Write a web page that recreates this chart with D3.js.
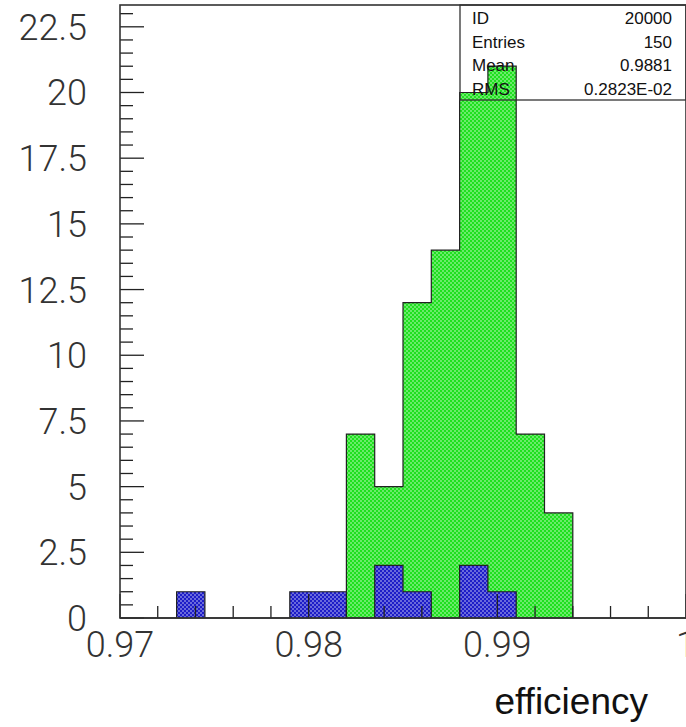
<!DOCTYPE html>
<html>
<head>
<meta charset="utf-8">
<script src="https://cdn.jsdelivr.net/npm/d3@7"></script>
<style>
  body { margin: 0; background: #fff; }
  svg { display: block; }
</style>
</head>
<body>
<div id="chart"></div>
<script>
// histogram bins (0.97 .. 1.0, width 0.0015)
const binStarts = [0.9700, 0.9715, 0.9730, 0.9745, 0.9760, 0.9775, 0.9790, 0.9805, 0.9820, 0.9835,
                   0.9850, 0.9865, 0.9880, 0.9895, 0.9910, 0.9925, 0.9940, 0.9955, 0.9970, 0.9985];
const binWidth = 0.0015;
const greenCounts = [0, 0, 0, 0, 0, 0, 0, 0, 7, 5, 12, 14, 20, 21, 7, 4, 0, 0, 0, 0];
const blueCounts  = [0, 0, 1, 0, 0, 0, 1, 1, 0, 2, 1, 0, 2, 1, 0, 0, 0, 0, 0, 0];

const xTickLabels = [0.97, 0.98, 0.99, 1];
const yTickLabels = [0, 2.5, 5, 7.5, 10, 12.5, 15, 17.5, 20, 22.5];

const statNames  = ['ID', 'Entries', 'Mean', 'RMS'];
const statValues = ['20000', '150', '0.9881', '0.2823E-02'];

const W = 686, H = 727;
const frame = {left: 120, top: 5, right: 686, bottom: 618};

const x = d3.scaleLinear().domain([0.97, 1.0]).range([frame.left, frame.right]);
const y = d3.scaleLinear().domain([0, 23.33]).range([frame.bottom, frame.top]);

const svg = d3.select('#chart').append('svg')
    .attr('width', W).attr('height', H);

// dotted fill patterns
const defs = svg.append('defs');
function dotPattern(id, color) {
    let p = defs.append('pattern')
        .attr('id', id)
        .attr('width', 4).attr('height', 4)
        .attr('patternUnits', 'userSpaceOnUse');
    p.append('rect').attr('width', 4).attr('height', 4).attr('fill', color);
    p.append('circle').attr('cx', 1).attr('cy', 1).attr('r', 0.75).attr('fill', '#fff').attr('opacity', 0.85);
    p.append('circle').attr('cx', 3).attr('cy', 3).attr('r', 0.75).attr('fill', '#fff').attr('opacity', 0.85);
}
dotPattern('dotGreen', '#1fe01f');
dotPattern('dotBlue', '#1d1dc8');

// step outline of a histogram
function stepPoints(counts) {
    let pts = [[x(binStarts[0]), y(0)]];
    counts.forEach((c, i) => {
        pts.push([x(binStarts[i]), y(c)]);
        pts.push([x(binStarts[i] + binWidth), y(c)]);
    });
    pts.push([x(binStarts[binStarts.length - 1] + binWidth), y(0)]);
    return pts;
}
const line = d3.line();

const plot = svg.append('g');
plot.append('path')
    .attr('d', line(stepPoints(greenCounts)) + 'Z')
    .attr('fill', 'url(#dotGreen)')
    .attr('stroke', '#222').attr('stroke-width', 1.2);
plot.append('path')
    .attr('d', line(stepPoints(blueCounts)) + 'Z')
    .attr('fill', 'url(#dotBlue)')
    .attr('stroke', '#222').attr('stroke-width', 1.2);

// ticks (inside the frame)
const xMinor = d3.range(0, 16).map(i => 0.97 + i * 0.002);
const yMinor = d3.range(0, 47).map(i => i * 0.5);

svg.append('g').selectAll('line').data(xMinor).join('line')
    .attr('x1', d => x(d)).attr('x2', d => x(d))
    .attr('y1', frame.bottom)
    .attr('y2', (d, i) => frame.bottom - (i % 5 === 0 ? 24 : 12))
    .attr('stroke', '#222').attr('stroke-width', 1.3);

svg.append('g').selectAll('line').data(yMinor).join('line')
    .attr('x1', frame.left)
    .attr('x2', (d, i) => frame.left + (i % 5 === 0 ? 24 : 13))
    .attr('y1', d => y(d)).attr('y2', d => y(d))
    .attr('stroke', '#222').attr('stroke-width', 1.3);

// frame
svg.append('rect')
    .attr('x', frame.left).attr('y', frame.top)
    .attr('width', frame.right - frame.left).attr('height', frame.bottom - frame.top)
    .attr('fill', 'none').attr('stroke', '#333').attr('stroke-width', 1.6);

// tick labels
const labelFont = 'Roboto, "Liberation Sans", sans-serif';
svg.append('g').selectAll('text').data(yTickLabels).join('text')
    .attr('x', 87).attr('y', d => y(d) + 13)
    .attr('text-anchor', 'end')
    .attr('font-family', labelFont).attr('font-weight', 300)
    .attr('font-size', 36).attr('fill', '#333')
    .text(d => d);

svg.append('g').selectAll('text').data(xTickLabels).join('text')
    .attr('x', d => x(d)).attr('y', 657)
    .attr('text-anchor', 'middle')
    .attr('font-family', labelFont).attr('font-weight', 300)
    .attr('font-size', 36).attr('fill', '#333')
    .text(d => d);

// axis title
svg.append('text')
    .attr('x', 648).attr('y', 714)
    .attr('text-anchor', 'end')
    .attr('font-family', '"Liberation Sans", Arial, sans-serif')
    .attr('font-size', 37).attr('fill', '#111')
    .text('efficiency');

// stats box
const box = {left: 460, top: frame.top, right: frame.right, bottom: 100};
svg.append('rect')
    .attr('x', box.left).attr('y', box.top)
    .attr('width', box.right - box.left).attr('height', box.bottom - box.top)
    .attr('fill', 'none').attr('stroke', '#333').attr('stroke-width', 1.3);

const statY = d3.scaleBand().domain(statNames).range([box.top, box.bottom]);
const stats = svg.append('g')
    .attr('font-family', '"Liberation Sans", Arial, sans-serif')
    .attr('font-size', 17).attr('fill', '#111');
stats.selectAll('text.name').data(statNames).join('text')
    .attr('class', 'name')
    .attr('x', 472).attr('y', d => statY(d) + statY.bandwidth() - 5)
    .text(d => d);
stats.selectAll('text.val').data(statValues).join('text')
    .attr('class', 'val')
    .attr('x', 672).attr('y', (d, i) => statY(statNames[i]) + statY.bandwidth() - 5)
    .attr('text-anchor', 'end')
    .text(d => d);
</script>
</body>
</html>
